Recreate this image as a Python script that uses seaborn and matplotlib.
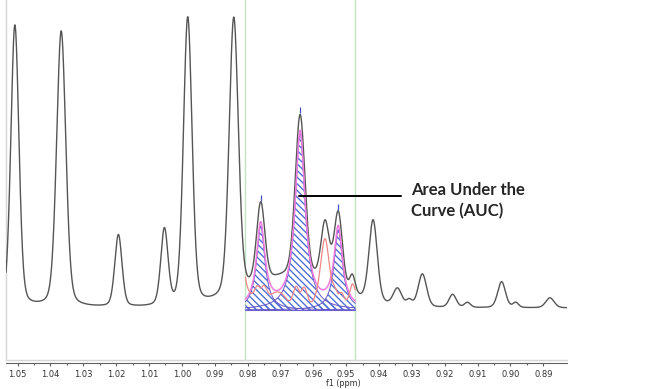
import numpy as np
import pandas as pd
import matplotlib.pyplot as plt
import seaborn as sns

# peak table: position (ppm), height above baseline, FWHM (ppm)
peak_ppm = [1.0508, 1.0367, 1.0193, 1.0053, 0.9982, 0.9842, 0.9760, 0.9640, 0.9564, 0.9524,
            0.9481, 0.9418, 0.9344, 0.9308, 0.9268, 0.9176, 0.9131, 0.9027, 0.8984, 0.8880]
peak_height = [282, 276, 72, 76, 288, 278, 80, 162, 60, 76, 18, 82, 17, 6, 33, 13, 5, 26, 5, 10]
peak_fwhm = [0.0029, 0.0033, 0.0026, 0.0026, 0.0031, 0.0033, 0.0030, 0.0035, 0.0030, 0.0030,
             0.0020, 0.0030, 0.0030, 0.0020, 0.0030, 0.0026, 0.0022, 0.0028, 0.0020, 0.0030]
# broad hump under the 0.98-0.95 multiplet
hump_ppm, hump_height, hump_fwhm = 0.9660, 30, 0.0300

# deconvolution (fitted lines) inside the integration window
fit_ppm = [0.9760, 0.9640, 0.9524]
fit_height = [84, 177, 80]
fit_fwhm = [0.0031, 0.0037, 0.0031]
fit_base = -2
window = [0.9807, 0.9472]

tick_ppm = [1.05, 1.04, 1.03, 1.02, 1.01, 1.00, 0.99, 0.98, 0.97, 0.96,
            0.95, 0.94, 0.93, 0.92, 0.91, 0.90, 0.89]

ETA = 0.25  # lorentzian share of the line shape


def voigt(x, c, h, w, eta=ETA):
    s = w / 2.3548
    g = np.exp(-(x - c) ** 2 / (2 * s * s))
    l = 1 / (1 + (2 * (x - c) / w) ** 2)
    return h * ((1 - eta) * g + eta * l)


xs = np.linspace(1.0535, 0.8828, 3000)
spec = sum(voigt(xs, c, h, w) for c, h, w in zip(peak_ppm, peak_height, peak_fwhm))
spec = spec + voigt(xs, hump_ppm, hump_height, hump_fwhm, eta=0)
df = pd.DataFrame({'ppm': xs, 'intensity': spec})

xw = xs[(xs <= window[0]) & (xs >= window[1])]
comps = [fit_base + voigt(xw, c, h, w, eta=1) for c, h, w in zip(fit_ppm, fit_height, fit_fwhm)]
fit_sum = fit_base + sum(voigt(xw, c, h, w, eta=1) for c, h, w in zip(fit_ppm, fit_height, fit_fwhm))
spec_w = np.interp(xw, xs[::-1], spec[::-1])
resid = spec_w - fit_sum

sns.set_style('white')
plt.rcParams['font.family'] = ['DejaVu Sans']
plt.rcParams['hatch.linewidth'] = 0.95

fig = plt.figure(figsize=(6.5, 3.89), dpi=100)
ax = fig.add_axes([6 / 650, 29 / 389, 561 / 650, 360 / 389])

for x0 in window:
    ax.axvline(x0, color='#c2e3c2', lw=1, zorder=0)

for c in comps:
    ax.fill_between(xw, fit_base, c, facecolor='none', edgecolor='#4a6cd4',
                    hatch='\\' * 5, linewidth=0, zorder=1)
    ax.plot(xw, c, color='#6a55c8', lw=0.7, zorder=2)
ax.plot([window[0], window[1]], [fit_base, fit_base], color='#6a60d0', lw=0.8, zorder=2)

sns.lineplot(data=df, x='ppm', y='intensity', color='#555555', lw=1.0, ax=ax, zorder=3,
             sort=False, estimator=None)
ax.plot(xw, fit_sum, color='#f07ce0', lw=1.1, zorder=4)
ax.plot(xw, resid, color='#f08888', lw=0.9, zorder=4)

top_y = np.interp(fit_ppm, xs[::-1], spec[::-1]) + 4
ax.scatter(fit_ppm, top_y, marker='|', s=14, color='#4050c0', linewidths=0.9, zorder=5)

# annotation
ax.plot([0.9643, 0.9332], [112, 112], color='black', lw=1.4, zorder=6)
ax.text(0.9302, 126, 'Area Under the\nCurve (AUC)', family=['Lato', 'DejaVu Sans'],
        fontweight='bold', fontsize=12, va='top', ha='left', linespacing=1.4)

ax.set_xlim(1.0535, 0.8828)
ax.set_ylim(-52, 308)
ax.set_yticks([])
ax.set_ylabel('')
ax.set_xticks(tick_ppm)
ax.set_xticklabels([f'{t:.2f}' for t in tick_ppm])
ax.set_xticks(np.array(tick_ppm[:-1]) - 0.005, minor=True)
ax.tick_params(axis='x', which='major', bottom=True, length=2.5, width=0.8, color='#606060',
               direction='out', pad=2.3, labelsize=6.0, labelcolor='#333333')
ax.tick_params(axis='x', which='minor', bottom=True, length=1.5, width=0.8, color='#606060',
               direction='out')
ax.set_xlabel('f1 (ppm)', fontsize=5.8, color='#333333')
ax.xaxis.set_label_coords(337 / 561, -0.052)

for side in ['top', 'right']:
    ax.spines[side].set_visible(False)
ax.spines['left'].set_color('#d6d6d6')
ax.spines['left'].set_linewidth(1)
ax.spines['bottom'].set_position(('outward', 2.5))
ax.spines['bottom'].set_color('#606060')
ax.spines['bottom'].set_linewidth(0.8)
ax.plot([0, 1], [0, 0], transform=ax.transAxes, color='#d6d6d6', lw=1, clip_on=False)

fig.savefig('out.png', dpi=100)
